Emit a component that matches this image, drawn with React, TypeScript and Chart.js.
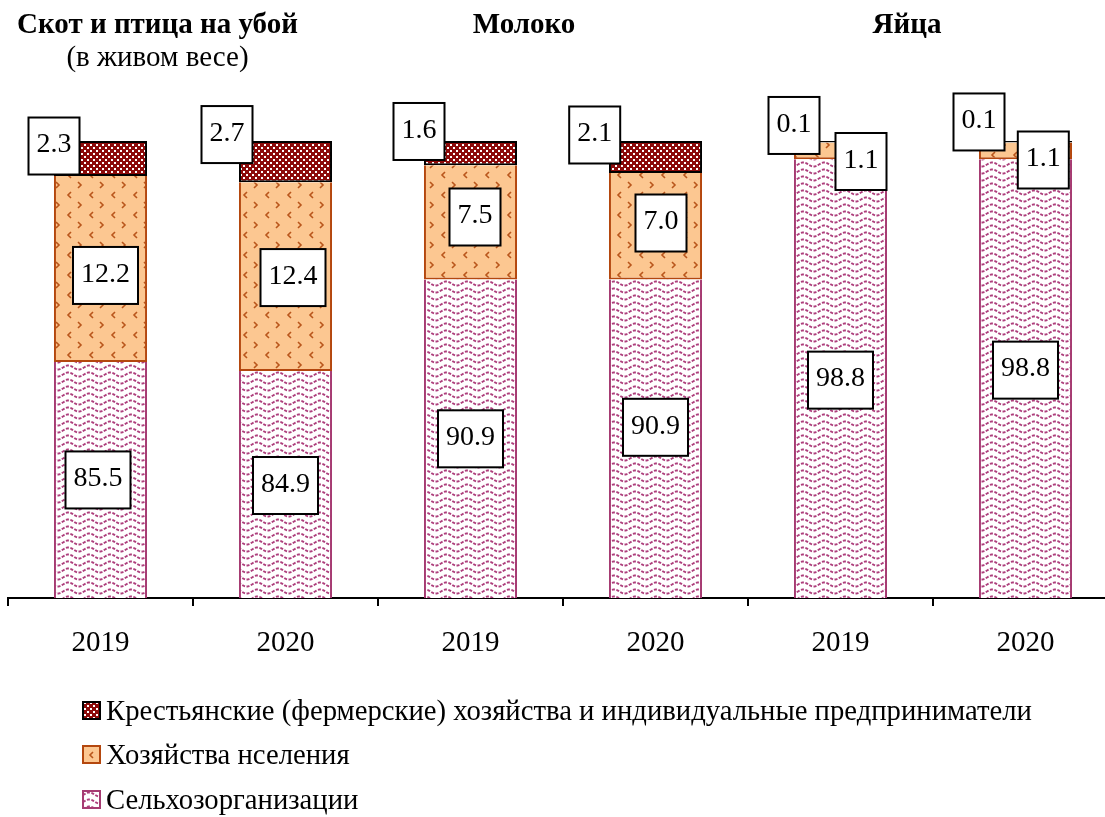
import React, { useEffect, useRef } from "react";
import { Chart, registerables } from "chart.js";

Chart.register(...registerables);

// ---------- data ----------
const categories = ["2019", "2020", "2019", "2020", "2019", "2020"];
const groupTitles = ["Скот и птица на убой", "Молоко", "Яйца"];
const groupSubtitle = "(в живом весе)";
const seriesNames = [
  "Сельхозорганизации",
  "Хозяйства нселения",
  "Крестьянские (фермерские) хозяйства и индивидуальные предприниматели",
];
const agriOrgs = [85.5, 84.9, 90.9, 90.9, 98.8, 98.8];
const households = [12.2, 12.4, 7.5, 7.0, 1.1, 1.1];
const farms = [2.3, 2.7, 1.6, 2.1, 0.1, 0.1];
const yMin = 70;
const yMax = 100;

// ---------- label placement (px offsets from segment centre) ----------
const agriOffsets = [[-2.5, 0], [0, 1], [0, 0], [0, -11.5], [0, 1.5], [0, -8.5]];
const householdOffsets = [[5, 6.5], [7.5, 1], [4.5, -5.5], [5.5, -3.3], [20.5, 10.6], [17.8, 9.1]];
const farmOffsets = [[-46.5, -12.5], [-58.5, -27], [-51.5, -21.7], [-60.8, -22], [-46.5, -16.3], [-46.5, -19.8]];

const SERIF = "'Liberation Serif', 'Times New Roman', serif";

function makeTile(w: number, h: number, draw: (g: CanvasRenderingContext2D) => void) {
  const c = document.createElement("canvas");
  c.width = w;
  c.height = h;
  const g = c.getContext("2d")!;
  draw(g);
  return c;
}

function checkerPattern(ctx: CanvasRenderingContext2D) {
  const t = makeTile(6, 6, (g) => {
    g.fillStyle = "#8c0a0a";
    g.fillRect(0, 0, 6, 6);
    g.fillStyle = "#ffffff";
    g.fillRect(0, 0, 2, 2);
    g.fillRect(3, 3, 2, 2);
  });
  return ctx.createPattern(t, "repeat")!;
}

function orangePattern(ctx: CanvasRenderingContext2D) {
  const t = makeTile(22, 20, (g) => {
    g.fillStyle = "#fcc791";
    g.fillRect(0, 0, 22, 20);
    g.strokeStyle = "#b9561c";
    g.lineWidth = 1.6;
    g.beginPath();
    // ">"
    g.moveTo(12, 2);
    g.lineTo(15, 5);
    g.lineTo(12, 8);
    // "<"
    g.moveTo(5, 12);
    g.lineTo(2, 15);
    g.lineTo(5, 18);
    g.stroke();
  });
  return ctx.createPattern(t, "repeat")!;
}

function pinkPattern(ctx: CanvasRenderingContext2D) {
  const t = makeTile(21, 7, (g) => {
    g.fillStyle = "#ffffff";
    g.fillRect(0, 0, 21, 7);
    g.strokeStyle = "#ad3f7c";
    g.lineWidth = 1.9;
    g.setLineDash([3, 1.5]);
    g.beginPath();
    for (let x = -1; x <= 22; x += 0.5) {
      const y = 3.5 - 2.0 * Math.sin((2 * Math.PI * x) / 21);
      if (x === -1) g.moveTo(x, y);
      else g.lineTo(x, y);
    }
    g.stroke();
  });
  return ctx.createPattern(t, "repeat")!;
}

export default function App() {
  const ref = useRef<HTMLCanvasElement>(null);

  useEffect(() => {
    const canvas = ref.current!;
    const ctx = canvas.getContext("2d")!;
    const pPink = pinkPattern(ctx);
    const pOrange = orangePattern(ctx);
    const pDark = checkerPattern(ctx);

    const labelPlugin = {
      id: "boxLabels",
      afterDatasetsDraw(chart: any) {
        const { ctx: c, chartArea } = chart;
        const sets = [
          { vals: agriOrgs, off: agriOffsets, i: 0 },
          { vals: households, off: householdOffsets, i: 1 },
          { vals: farms, off: farmOffsets, i: 2 },
        ];
        c.save();
        c.font = `28px ${SERIF}`;
        c.textAlign = "center";
        c.textBaseline = "middle";
        for (const s of sets) {
          const meta = chart.getDatasetMeta(s.i);
          meta.data.forEach((bar: any, j: number) => {
            const top = Math.min(bar.y, bar.base);
            const bottom = Math.min(Math.max(bar.y, bar.base), chartArea.bottom);
            const cx = bar.x + s.off[j][0];
            const cy = (top + bottom) / 2 + s.off[j][1];
            const text = s.vals[j].toFixed(1);
            const w = c.measureText(text).width + 16;
            const h = 57;
            c.fillStyle = "#ffffff";
            c.fillRect(cx - w / 2, cy - h / 2, w, h);
            c.lineWidth = 2;
            c.strokeStyle = "#000000";
            c.strokeRect(cx - w / 2, cy - h / 2, w, h);
            c.fillStyle = "#000000";
            c.fillText(text, cx, cy - 1);
          });
        }
        c.restore();
      },
    };

    const decorPlugin = {
      id: "decor",
      afterDraw(chart: any) {
        const c = chart.ctx as CanvasRenderingContext2D;
        c.save();
        c.fillStyle = "#000";
        c.textAlign = "center";
        c.textBaseline = "alphabetic";
        c.font = `bold 29px ${SERIF}`;
        const titleX = [157.5, 524, 907];
        groupTitles.forEach((t, i) => c.fillText(t, titleX[i], 33));
        c.font = `29px ${SERIF}`;
        c.fillText(groupSubtitle, titleX[0], 66);

        // legend
        const items = [
          { name: seriesNames[2], fill: pDark, border: "#000000" },
          { name: seriesNames[1], fill: pOrange, border: "#b4470e" },
          { name: seriesNames[0], fill: pPink, border: "#a63b72" },
        ];
        const baselines = [720, 764, 809];
        c.textAlign = "left";
        c.font = `28.7px ${SERIF}`;
        items.forEach((it, i) => {
          const b = baselines[i];
          c.fillStyle = it.fill;
          c.fillRect(82, b - 19, 19, 19);
          c.lineWidth = 2;
          c.strokeStyle = it.border;
          c.strokeRect(83, b - 18, 17, 17);
          c.fillStyle = "#000";
          c.fillText(it.name, 106, b);
        });
        c.restore();
      },
    };

    const chart = new Chart(ctx, {
      type: "bar",
      data: {
        labels: categories,
        datasets: [
          {
            label: seriesNames[0],
            data: agriOrgs,
            backgroundColor: pPink,
            borderColor: "#a63b72",
            borderWidth: 2,
            borderSkipped: "top",
          },
          {
            label: seriesNames[1],
            data: households,
            backgroundColor: pOrange,
            borderColor: "#b4470e",
            borderWidth: 2,
            borderSkipped: "top",
          },
          {
            label: seriesNames[2],
            data: farms,
            backgroundColor: pDark,
            borderColor: "#000000",
            borderWidth: 2,
            borderSkipped: false,
          },
        ],
      },
      options: {
        responsive: false,
        animation: false,
        devicePixelRatio: 1,
        layout: { padding: { top: 141, left: 8, right: 12, bottom: 0 } },
        datasets: { bar: { barPercentage: 0.503, categoryPercentage: 1 } },
        plugins: { legend: { display: false }, tooltip: { enabled: false }, title: { display: false } },
        scales: {
          x: {
            stacked: true,
            offset: true,
            border: { display: true, color: "#000", width: 2 },
            grid: {
              offset: true,
              drawOnChartArea: false,
              drawTicks: true,
              tickLength: 8,
              color: "#000",
              lineWidth: 2,
            },
            ticks: { color: "#000", font: { family: SERIF, size: 29 }, padding: 20, maxRotation: 0 },
            afterFit: (scale: any) => {
              scale.height = 219;
            },
          },
          y: { stacked: true, min: yMin, max: yMax, display: false },
        },
      },
      plugins: [labelPlugin, decorPlugin],
    } as any);

    return () => chart.destroy();
  }, []);

  return (
    <div
      style={{
        position: "fixed",
        left: 0,
        top: 0,
        width: 1105,
        height: 817,
        overflow: "hidden",
        background: "#fff",
      }}
    >
      <canvas ref={ref} width={1130} height={817} style={{ display: "block", width: 1130, height: 817 }} />
    </div>
  );
}
